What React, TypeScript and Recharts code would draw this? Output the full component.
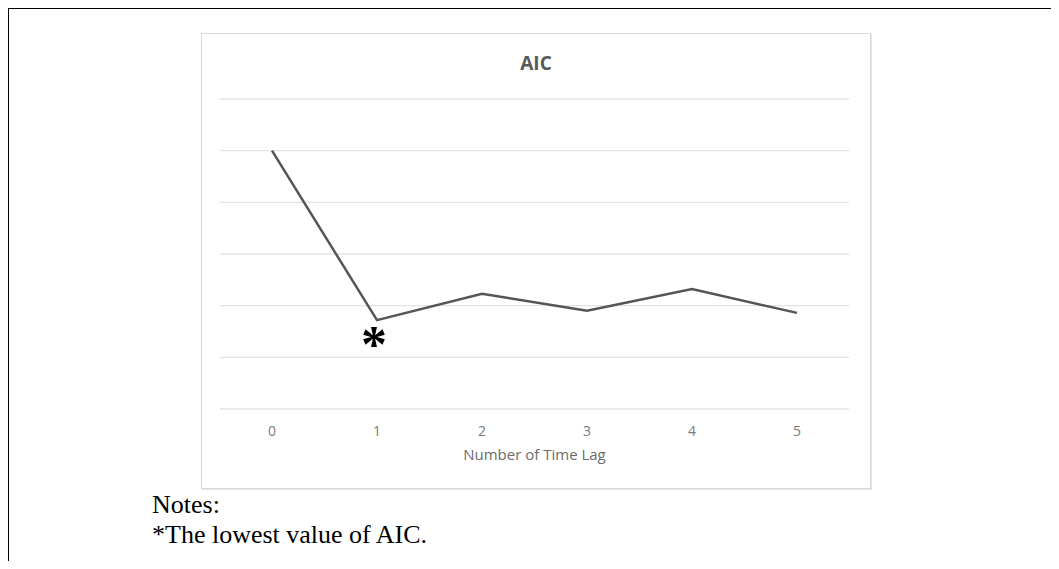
import { LineChart, Line, XAxis, YAxis, CartesianGrid } from 'recharts';

const lags = ['0', '1', '2', '3', '4', '5'];
const aic = [5.0, 1.72, 2.23, 1.9, 2.32, 1.86];
const yTicks = [0, 1, 2, 3, 4, 5, 6];
const lowestIndex = 1;

const data = lags.map((lag, i) => ({ lag, aic: aic[i] }));

const font = '"Open Sans", "Liberation Sans", sans-serif';

// asterisk under the lowest point
function StarLabel(props: any) {
  const { x, y, index } = props;
  if (index !== lowestIndex) return null;
  return (
    <text
      x={x - 3}
      y={y + 42}
      textAnchor="middle"
      fontSize={52}
      fontWeight="bold"
      fontFamily='"Liberation Serif", "Times New Roman", serif'
      fill="#000"
    >
      *
    </text>
  );
}

export default function App() {
  return (
    <div style={{ position: 'relative', width: 1043, height: 553 }}>
      <div
        style={{
          position: 'absolute',
          left: -2,
          top: -2,
          width: 1053,
          height: 563,
          borderLeft: '3px solid #000',
          borderTop: '3px solid #000',
          boxSizing: 'border-box',
        }}
      />
      <div
        style={{
          position: 'absolute',
          left: 193,
          top: 25,
          width: 668,
          height: 454,
          border: '1px solid #d9d9d9',
          boxShadow: '1px 1px 0 #e4e4e4',
          background: '#fff',
        }}
      >
        <div
          style={{
            position: 'absolute',
            left: 0,
            right: 0,
            top: 19,
            textAlign: 'center',
            fontFamily: font,
            fontWeight: 'bold',
            fontSize: 19,
            lineHeight: '20px',
            color: '#595959',
          }}
        >
          AIC
        </div>
        <LineChart
          width={666}
          height={452}
          data={data}
          margin={{ top: 65, right: 19, bottom: 27, left: 18 }}
        >
          <CartesianGrid vertical={false} stroke="#e3e3e3" strokeWidth={1.3} />
          <XAxis
            dataKey="lag"
            axisLine={false}
            tickLine={false}
            height={50}
            tickMargin={11}
            padding={{ left: 52, right: 52 }}
            tick={{ fontSize: 14, fill: '#7a7a7a', fontFamily: font }}
            label={{
              value: 'Number of Time Lag',
              position: 'insideBottom',
              offset: -1,
              fontSize: 15,
              fill: '#6b6b6b',
              fontFamily: font,
            }}
          />
          <YAxis hide domain={[0, 6]} ticks={yTicks} />
          <Line
            type="linear"
            dataKey="aic"
            stroke="#555555"
            strokeWidth={2.5}
            dot={false}
            isAnimationActive={false}
            label={<StarLabel />}
          />
        </LineChart>
      </div>
      <div
        style={{
          position: 'absolute',
          left: 144,
          top: 482,
          fontFamily: '"Liberation Serif", "Times New Roman", serif',
          fontSize: 26,
          lineHeight: '30px',
          color: '#000',
        }}
      >
        <div>Notes:</div>
        <div>*The lowest value of AIC.</div>
      </div>
    </div>
  );
}
